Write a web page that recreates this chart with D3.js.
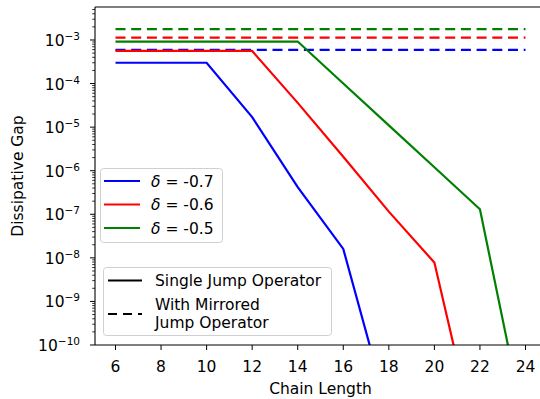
<!DOCTYPE html>
<html>
<head>
<meta charset="utf-8">
<script src="https://cdn.jsdelivr.net/npm/d3@7"></script>
<style>
  body { margin: 0; background: #fff; }
  svg { font-family: "DejaVu Sans", sans-serif; }
</style>
</head>
<body>
<svg id="chart" width="540" height="399"></svg>
<script>
// chain lengths for each curve
const xSingleBlue = [6, 8, 10, 12, 14, 16, 18];
const xSingleRed = [6, 8, 10, 12, 14, 16, 18, 20, 22];
const xSingleGreen = [6, 8, 10, 12, 14, 16, 18, 20, 22, 24];
const xMirrored = [6, 8, 10, 12, 14, 16, 18, 20, 22, 24];

// single jump operator gaps
const singleBlue = [3.0e-4, 3.0e-4, 3.0e-4, 1.7e-5, 4.2e-7, 1.6e-8, 2.5e-12];
const singleRed = [5.6e-4, 5.6e-4, 5.6e-4, 5.6e-4, 3.6e-5, 2.1e-6, 1.15e-7, 7.8e-9, 2.5e-13];
const singleGreen = [9.2e-4, 9.2e-4, 9.2e-4, 9.2e-4, 9.2e-4, 1.0e-4, 1.1e-5, 1.2e-6, 1.3e-7, 1.1e-12];

// with mirrored jump operator
const mirroredBlue = [5.9e-4, 5.9e-4, 5.9e-4, 5.9e-4, 5.9e-4, 5.9e-4, 5.9e-4, 5.9e-4, 5.9e-4, 5.9e-4];
const mirroredRed = [1.13e-3, 1.13e-3, 1.13e-3, 1.13e-3, 1.13e-3, 1.13e-3, 1.13e-3, 1.13e-3, 1.13e-3, 1.13e-3];
const mirroredGreen = [1.78e-3, 1.78e-3, 1.78e-3, 1.78e-3, 1.78e-3, 1.78e-3, 1.78e-3, 1.78e-3, 1.78e-3, 1.78e-3];

const deltaLabels = ["-0.7", "-0.6", "-0.5"];
const colors = ["#0000ff", "#ff0000", "#008000"];
const xTicks = [6, 8, 10, 12, 14, 16, 18, 20, 22, 24];
const yExponents = [-10, -9, -8, -7, -6, -5, -4, -3];

const fs = 15.5;
const svg = d3.select("#chart");
const pLeft = 95, pRight = 546, pTop = 7, pBottom = 345;

const x = d3.scaleLinear().domain([5.1, 24.9]).range([pLeft, pRight]);
const y = d3.scaleLog().domain([1e-10, Math.pow(10, -2.243)]).range([pBottom, pTop]);

svg.append("defs").append("clipPath").attr("id", "clip")
    .append("rect").attr("x", pLeft).attr("y", pTop)
    .attr("width", pRight - pLeft).attr("height", pBottom - pTop);

const line = d3.line().x(d => x(d[0])).y(d => y(d[1]));
const plot = svg.append("g").attr("clip-path", "url(#clip)");

const series = [
    { xs: xMirrored, ys: mirroredBlue, c: 0, dash: true },
    { xs: xMirrored, ys: mirroredRed, c: 1, dash: true },
    { xs: xMirrored, ys: mirroredGreen, c: 2, dash: true },
    { xs: xSingleBlue, ys: singleBlue, c: 0, dash: false },
    { xs: xSingleRed, ys: singleRed, c: 1, dash: false },
    { xs: xSingleGreen, ys: singleGreen, c: 2, dash: false }
];

series.forEach(s => {
    plot.append("path")
        .datum(s.xs.map((v, i) => [v, s.ys[i]]))
        .attr("d", line)
        .attr("fill", "none")
        .attr("stroke", colors[s.c])
        .attr("stroke-width", 2.2)
        .attr("stroke-dasharray", s.dash ? "10,5.7" : null);
});

// spines
svg.append("line").attr("x1", pLeft).attr("x2", pRight).attr("y1", pTop).attr("y2", pTop).attr("stroke", "#000").attr("stroke-width", 1.1);
svg.append("line").attr("x1", pLeft).attr("x2", pRight).attr("y1", pBottom).attr("y2", pBottom).attr("stroke", "#000").attr("stroke-width", 1.1);
svg.append("line").attr("x1", pLeft).attr("x2", pLeft).attr("y1", pTop).attr("y2", pBottom).attr("stroke", "#000").attr("stroke-width", 1.1);

// x axis
const xAxis = svg.append("g");
xTicks.forEach(t => {
    xAxis.append("line").attr("x1", x(t)).attr("x2", x(t)).attr("y1", pBottom).attr("y2", pBottom + 5).attr("stroke", "#000").attr("stroke-width", 1);
    xAxis.append("text").attr("x", x(t)).attr("y", pBottom + 27).attr("text-anchor", "middle")
        .attr("font-size", fs).text(t);
});
svg.append("text").attr("x", (pLeft + pRight) / 2).attr("y", 394).attr("text-anchor", "middle")
    .attr("font-size", fs).text("Chain Length");

// y axis, major and minor ticks
const yAxis = svg.append("g");
for (let e = -11; e <= -2; e++) {
    for (let m = 1; m < 10; m++) {
        const v = m * Math.pow(10, e);
        const py = y(v);
        if (py < pTop - 0.5 || py > pBottom + 0.5) continue;
        yAxis.append("line").attr("x1", pLeft).attr("x2", pLeft - (m === 1 ? 5 : 2.8))
            .attr("y1", py).attr("y2", py).attr("stroke", "#000").attr("stroke-width", m === 1 ? 1 : 0.8);
    }
}
yExponents.forEach(e => {
    const t = yAxis.append("text").attr("x", pLeft - 15).attr("y", y(Math.pow(10, e)) + 6)
        .attr("text-anchor", "end").attr("font-size", fs);
    t.append("tspan").text("10");
    t.append("tspan").attr("dy", -6).attr("font-size", 10.5).text("\u2212" + Math.abs(e));
});
svg.append("text").attr("transform", "translate(23," + ((pTop + pBottom) / 2) + ") rotate(-90)")
    .attr("text-anchor", "middle").attr("font-size", fs).text("Dissipative Gap");

// legend: delta values
const lg1 = svg.append("g");
lg1.append("rect").attr("x", 100.5).attr("y", 168.5).attr("width", 122).attr("height", 74).attr("rx", 3)
    .attr("fill", "#fff").attr("fill-opacity", 0.8).attr("stroke", "#d0d0d0");
deltaLabels.forEach((d, i) => {
    const ly = 181 + i * 23.5;
    lg1.append("line").attr("x1", 104).attr("x2", 140).attr("y1", ly).attr("y2", ly)
        .attr("stroke", colors[i]).attr("stroke-width", 2.2);
    const t = lg1.append("text").attr("x", 151).attr("y", ly + 5.5).attr("font-size", fs);
    t.append("tspan").attr("font-style", "italic").text("\u03b4");
    t.append("tspan").text(" = " + d);
});

// legend: line styles
const lg2 = svg.append("g");
lg2.append("rect").attr("x", 103.5).attr("y", 267.5).attr("width", 228).attr("height", 68).attr("rx", 3)
    .attr("fill", "#fff").attr("fill-opacity", 0.8).attr("stroke", "#d0d0d0");
lg2.append("line").attr("x1", 108).attr("x2", 142).attr("y1", 280.5).attr("y2", 280.5)
    .attr("stroke", "#000").attr("stroke-width", 2.2);
lg2.append("text").attr("x", 155).attr("y", 286).attr("font-size", fs).text("Single Jump Operator");
lg2.append("line").attr("x1", 108).attr("x2", 142).attr("y1", 314).attr("y2", 314)
    .attr("stroke", "#000").attr("stroke-width", 2.2).attr("stroke-dasharray", "9,6");
lg2.append("text").attr("x", 155).attr("y", 309.5).attr("font-size", fs).text("With Mirrored");
lg2.append("text").attr("x", 155).attr("y", 328).attr("font-size", fs).text("Jump Operator");
</script>
</body>
</html>
